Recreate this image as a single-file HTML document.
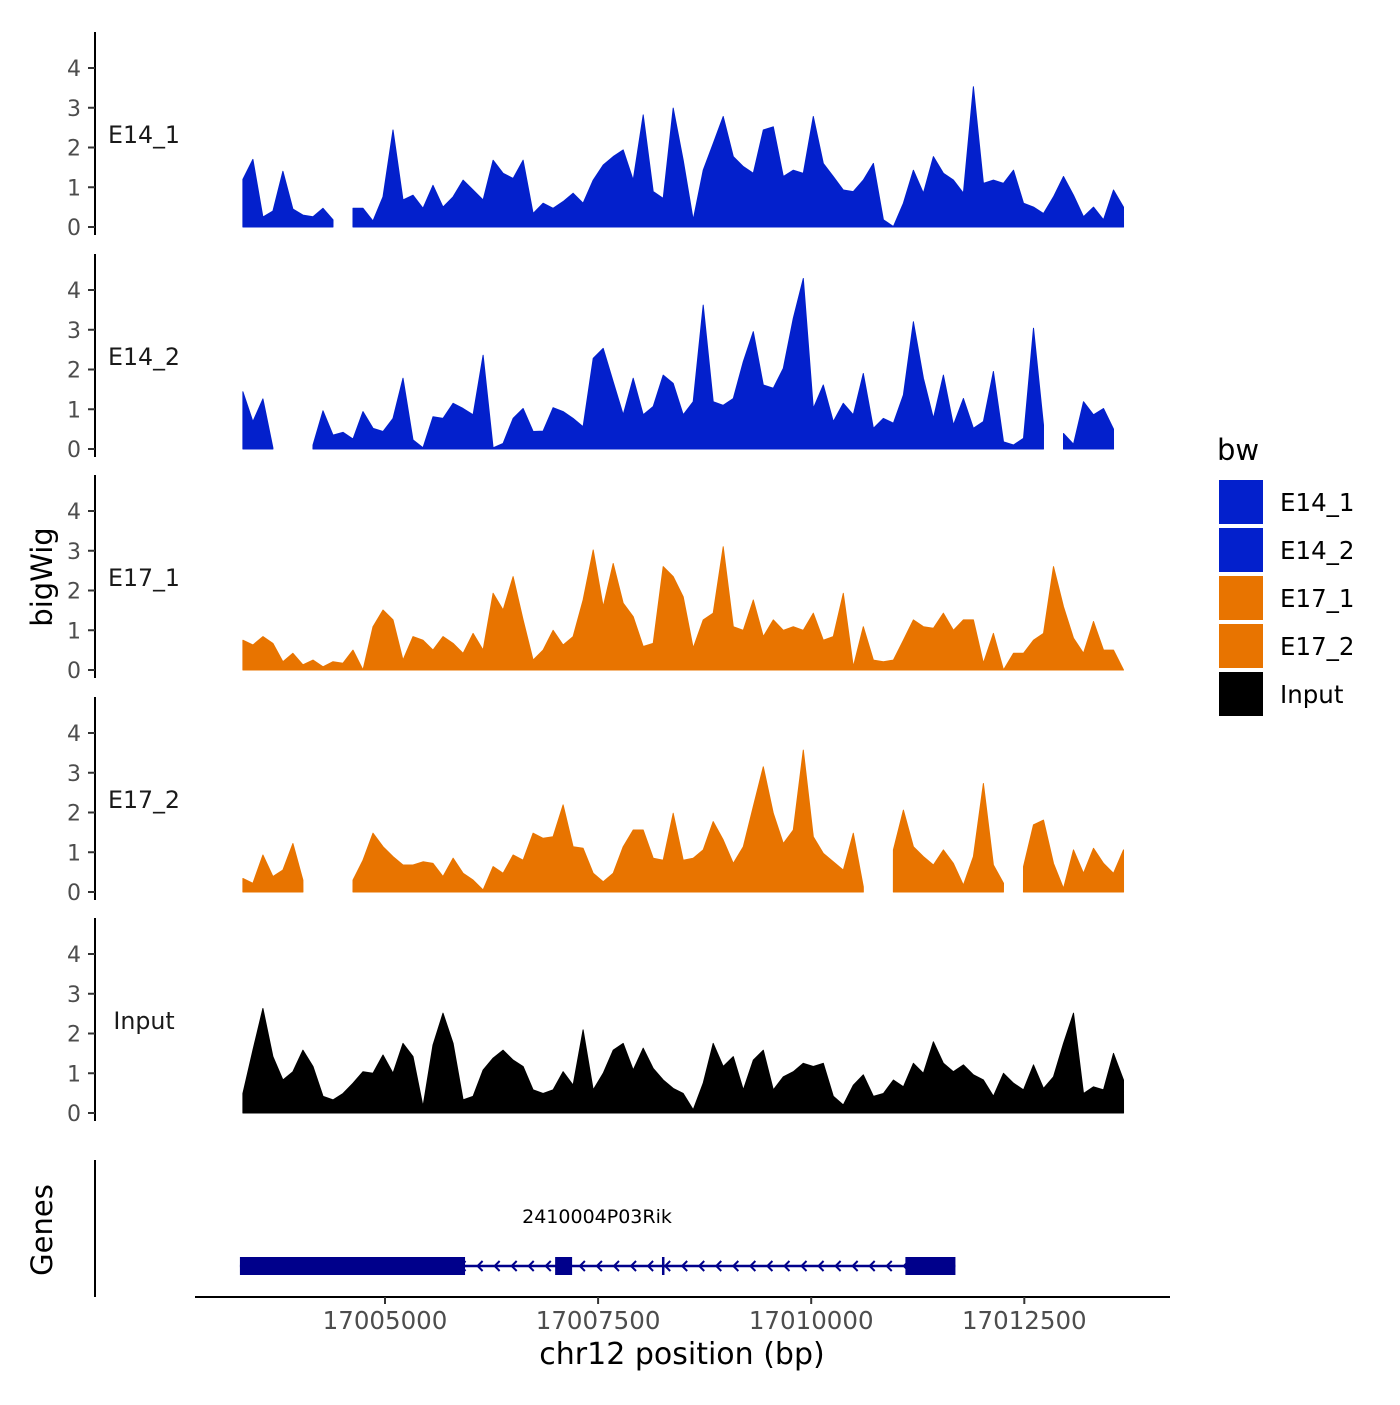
<!DOCTYPE html>
<html><head><meta charset="utf-8"><style>
body{margin:0;background:#fff;}
svg text{font-family:"DejaVu Sans","Liberation Sans",sans-serif;}
</style></head><body>
<svg id="c" width="1400" height="1400" viewBox="0 0 1400 1400" xmlns="http://www.w3.org/2000/svg">
<rect width="1400" height="1400" fill="#fff"/>
<g id="tracks"></g>
<g id="genes"></g>
<g id="legend"></g>
</svg>
<script>
const trackNames = ["E14_1","E14_2","E17_1","E17_2","Input"];
const trackGroups = ["E14_1","E14_2","E17_1","E17_2","Input"];
const startBp = 17003333;
const stepBp = 117.4;
const yTicks = [0,1,2,3,4];
const xTicks = [17005000,17007500,17010000,17012500];
const xTickLabels = ["17005000","17007500","17010000","17012500"];
const e14_1 = [1.2,1.7,0.25,0.4,1.4,0.45,0.3,0.26,0.47,0.18,null,0.47,0.47,0.15,0.76,2.44,0.68,0.8,0.47,1.05,0.5,0.76,1.18,0.93,0.68,1.68,1.35,1.22,1.68,0.34,0.6,0.47,0.64,0.85,0.6,1.18,1.56,1.77,1.94,1.18,2.82,0.89,0.72,2.99,1.68,0.18,1.43,2.1,2.78,1.77,1.52,1.35,2.44,2.52,1.27,1.43,1.35,2.78,1.6,1.27,0.93,0.89,1.18,1.6,0.18,0.01,0.6,1.43,0.85,1.77,1.35,1.18,0.85,3.53,1.1,1.18,1.1,1.43,0.6,0.5,0.34,0.76,1.27,0.8,0.26,0.5,0.18,0.93,0.5];
const e14_2 = [1.44,0.69,1.26,0.03,null,null,null,0.1,0.96,0.35,0.42,0.25,0.94,0.52,0.44,0.77,1.78,0.23,0.03,0.81,0.77,1.15,1.02,0.86,2.36,0.03,0.14,0.77,1.02,0.44,0.45,1.04,0.94,0.77,0.56,2.28,2.53,1.69,0.86,1.78,0.86,1.07,1.86,1.65,0.86,1.19,3.62,1.19,1.1,1.27,2.2,2.95,1.61,1.53,2.03,3.29,4.29,1.02,1.61,0.69,1.15,0.86,1.9,0.52,0.77,0.65,1.36,3.2,1.78,0.77,1.86,0.6,1.27,0.52,0.69,1.95,0.18,0.1,0.27,3.04,0.6,null,0.39,0.12,1.19,0.86,1.02,0.5];
const e17_1 = [0.75,0.63,0.84,0.67,0.21,0.42,0.13,0.25,0.08,0.21,0.17,0.5,0,1.09,1.51,1.26,0.25,0.84,0.75,0.5,0.84,0.67,0.42,0.92,0.5,1.93,1.51,2.35,1.26,0.25,0.5,1.0,0.63,0.84,1.76,3.02,1.59,2.68,1.68,1.34,0.59,0.67,2.6,2.35,1.84,0.55,1.26,1.43,3.1,1.09,1.0,1.76,0.84,1.26,1.0,1.09,1.0,1.43,0.75,0.84,1.93,0.08,1.09,0.25,0.21,0.25,0.75,1.26,1.09,1.05,1.43,1.0,1.26,1.26,0.17,0.92,0,0.42,0.42,0.75,0.92,2.6,1.59,0.8,0.42,1.22,0.5,0.5,0];
const e17_2 = [0.34,0.22,0.93,0.39,0.55,1.22,0.3,null,null,null,null,0.3,0.8,1.48,1.14,0.89,0.68,0.68,0.76,0.72,0.39,0.85,0.47,0.3,0.05,0.64,0.47,0.93,0.8,1.48,1.35,1.39,2.19,1.14,1.1,0.47,0.26,0.47,1.14,1.56,1.56,0.85,0.8,1.98,0.8,0.85,1.06,1.77,1.31,0.72,1.14,2.15,3.15,1.98,1.22,1.56,3.57,1.39,0.97,0.76,0.55,1.48,0.13,null,null,1.06,2.06,1.14,0.89,0.68,1.06,0.72,0.17,0.89,2.73,0.68,0.22,null,0.64,1.69,1.81,0.72,0.09,1.06,0.47,1.1,0.72,0.47,1.06];
const input = [0.49,1.58,2.63,1.42,0.83,1.04,1.58,1.17,0.42,0.33,0.49,0.75,1.04,1.0,1.46,1.0,1.75,1.42,0.16,1.71,2.51,1.75,0.33,0.42,1.08,1.38,1.58,1.33,1.17,0.58,0.49,0.58,1.04,0.7,2.09,0.58,1.0,1.58,1.75,1.08,1.63,1.12,0.83,0.62,0.49,0.08,0.75,1.75,1.17,1.42,0.58,1.33,1.58,0.58,0.91,1.04,1.25,1.17,1.25,0.42,0.2,0.7,0.96,0.42,0.49,0.83,0.66,1.25,1.0,1.79,1.25,1.04,1.21,0.96,0.83,0.42,1.0,0.75,0.58,1.21,0.62,0.91,1.75,2.51,0.49,0.66,0.58,1.5,0.83];
const seriesValues = [e14_1,e14_2,e17_1,e17_2,input];
const geneName = "2410004P03Rik";
const geneStart = 17003298, geneEnd = 17011692;
const exonStarts = [17003298,17006996,17011105];
const exonEnds = [17005939,17007195,17011692];

const colors = {"E14_1":"#0320CC","E14_2":"#0320CC","E17_1":"#E87400","E17_2":"#E87400","Input":"#000000"};
const NS="http://www.w3.org/2000/svg";
function mk(tag, attrs, parent){const e=document.createElementNS(NS,tag);for(const k in attrs)e.setAttribute(k,attrs[k]);parent.appendChild(e);return e;}
function xScale(bp){return 385+(bp-17005000)/2500*213.1;}
const pxPerUnit = 39.75;
const baselines = [227,449,670,892,1113];
const tg=document.getElementById('tracks');

seriesValues.forEach((vals,ti)=>{
  const base=baselines[ti];
  const y=v=>base-v*pxPerUnit;
  const g=mk('g',{},tg);
  
  
  const ax=mk('line',{x1:95,x2:95,y1:base-195,y2:base+8,stroke:'#000','stroke-width':2},g);
  
  
  yTicks.forEach(t=>{
    const tk=mk('line',{x1:88,x2:95,y1:y(t),y2:y(t),stroke:'#333','stroke-width':2},g);
    
    
    const tl=mk('text',{x:81,y:y(t)+8,'text-anchor':'end','font-size':22,fill:'#4d4d4d'},g);
    tl.textContent=t;
    
    
  });
  const lab=mk('text',{x:144,y:base-84,'text-anchor':'middle','font-size':23.7,fill:'#1a1a1a'},g);
  lab.textContent=trackNames[ti];
  
  
  let run=[];
  const runs=[];
  vals.forEach((v,i)=>{ if(v===null){ if(run.length)runs.push(run); run=[]; } else run.push([xScale(startBp+i*stepBp),y(v)]); });
  if(run.length)runs.push(run);
  runs.forEach(r=>{
    let d='M'+r[0][0]+','+base;
    r.forEach(p=>{d+=' L'+p[0].toFixed(1)+','+p[1].toFixed(1);});
    d+=' L'+r[r.length-1][0]+','+base+' Z';
    const a=mk('path',{d:d,fill:colors[trackGroups[ti]],'stroke':colors[trackGroups[ti]],'stroke-width':1,'stroke-linejoin':'round'},g);
    
    
  });
});

const yt=mk('text',{x:0,y:0,transform:'translate(52,577) rotate(-90)','text-anchor':'middle','font-size':29,fill:'#000'},tg);
yt.textContent='bigWig';



const gg=document.getElementById('genes');
const gax=mk('line',{x1:95,x2:95,y1:1160,y2:1297,stroke:'#000','stroke-width':2},gg);


const gt=mk('text',{x:0,y:0,transform:'translate(52,1230) rotate(-90)','text-anchor':'middle','font-size':29,fill:'#000'},gg);
gt.textContent='Genes';


const gy=1266;
const intr=mk('line',{x1:xScale(geneStart),x2:xScale(geneEnd),y1:gy,y2:gy,stroke:'#00008B','stroke-width':2.5},gg);


for(let bp=geneStart+1200;bp<geneEnd;bp+=200){
  const x=xScale(bp);
  const ar=mk('path',{d:`M${x+4},${gy-5} L${x-1},${gy} L${x+4},${gy+5}`,fill:'none',stroke:'#00008B','stroke-width':2},gg);
  
  
}
const tss=mk('line',{x1:xScale(17008264),x2:xScale(17008264),y1:gy-9,y2:gy+9,stroke:'#00008B','stroke-width':2.5},gg);


exonStarts.forEach((s,i)=>{
  const ex=mk('rect',{x:xScale(s),y:gy-9,width:xScale(exonEnds[i])-xScale(s),height:18,fill:'#00008B'},gg);
  
  
});
const gl=mk('text',{x:597,y:1223,'text-anchor':'middle','font-size':19,fill:'#000'},gg);
gl.textContent=geneName;


const xa=mk('line',{x1:195,x2:1170,y1:1297,y2:1297,stroke:'#000','stroke-width':2},gg);


xTicks.forEach((t,i)=>{
  const x=xScale(t);
  const tk=mk('line',{x1:x,x2:x,y1:1297,y2:1304,stroke:'#333','stroke-width':2},gg);
  
  
  const tl=mk('text',{x:x,y:1329,'text-anchor':'middle','font-size':24.5,fill:'#4d4d4d'},gg);
  tl.textContent=xTickLabels[i];
  
  
});
const xt=mk('text',{x:682,y:1364,'text-anchor':'middle','font-size':30,fill:'#000'},gg);
xt.textContent='chr12 position (bp)';



const lg=document.getElementById('legend');
const lt=mk('text',{x:1217,y:460,'font-size':29,fill:'#000'},lg);
lt.textContent='bw';


trackNames.forEach((n,i)=>{
  const ky=480+i*48;
  const k=mk('rect',{x:1219,y:ky,width:44,height:44,fill:colors[n]},lg);
  
  
  const t=mk('text',{x:1280,y:ky+31,'font-size':24.5,fill:'#000'},lg);
  t.textContent=n;
  
  
});
</script>
</body></html>
